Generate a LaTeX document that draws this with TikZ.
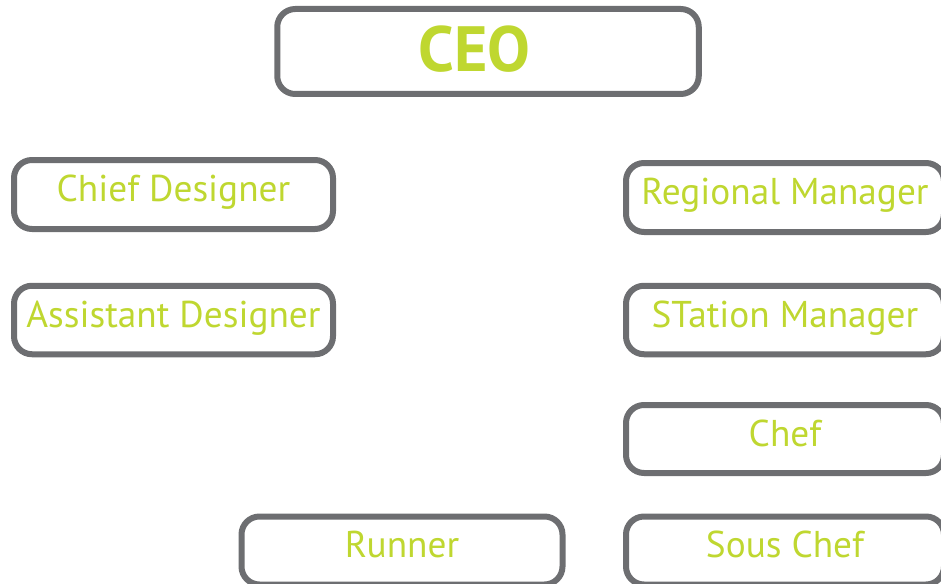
\documentclass[tikz,border=0pt]{standalone}
\usepackage{fontspec}
\setmainfont{PT Sans}
\definecolor{boxgray}{HTML}{6D6E71}
\definecolor{txtgreen}{HTML}{BFD730}
\begin{document}
\begin{tikzpicture}[x=1pt,y=-1pt,
  box/.style={draw=boxgray, line width=6pt, rounded corners=18pt, fill=white,
    text=txtgreen, inner sep=0pt, font=\fontsize{37.3}{40}\selectfont,
    text height=26.5pt, text depth=12pt},
  bigbox/.style={box, font=\fontsize{64}{66}\selectfont\bfseries,
    text height=44pt, text depth=4pt}]
\useasboundingbox (0,0) rectangle (941,583);
\node[bigbox, minimum width=421.5pt, minimum height=85pt] (ceo) at (488,51.5) {\hspace*{-27pt}CEO};
\node[box, minimum width=319pt, minimum height=69pt] (chief) at (173.5,194.5) {Chief Designer};
\node[box, minimum width=319pt, minimum height=68.5pt] (asst) at (173.5,320) {Assistant Designer};
\node[box, minimum width=318pt, minimum height=69pt] (regional) at (785,197.5) {Regional Manager};
\node[box, minimum width=318pt, minimum height=68.5pt] (station) at (785,320) {STation Manager};
\node[box, minimum width=318pt, minimum height=68pt] (chef) at (785,439) {Chef};
\node[box, minimum width=321pt, minimum height=68pt] (runner) at (402,550.5) {Runner};
\node[box, minimum width=318pt, minimum height=68pt] (sous) at (785,550.5) {Sous Chef};
\end{tikzpicture}
\end{document}
